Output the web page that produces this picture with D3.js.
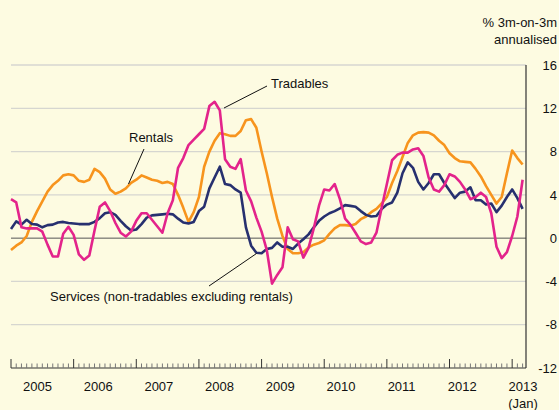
<!DOCTYPE html>
<html><head><meta charset="utf-8">
<script src="https://cdn.jsdelivr.net/npm/d3@7"></script>
<style>
html,body{margin:0;padding:0;background:#fdfbe1;}
svg{display:block;font-family:"Liberation Sans",Arial,Helvetica,sans-serif;}
</style></head><body>
<svg id="chart" width="559" height="410"></svg>
<script>
// Monthly data, Jan 2005 onward (index = months since Jan 2005)
const startYear = 2005;
const yearLabels = ["2005","2006","2007","2008","2009","2010","2011","2012","2013"];
const yTicks = [-12,-8,-4,0,4,8,12,16];

const rentals = [-1.1,-0.7,-0.4,0.2,1.5,2.5,3.4,4.3,4.9,5.3,5.8,5.9,
 5.8,5.3,5.2,5.4,6.4,6.1,5.5,4.5,4.1,4.3,4.6,5.1,
 5.4,5.8,5.6,5.4,5.3,5.1,5.2,5.0,4.0,2.8,1.5,2.4,
 3.8,6.6,8.0,9.0,9.7,9.6,9.45,9.45,9.9,10.9,11.0,10.2,
 8.0,6.0,3.8,1.8,0.2,-1.0,-1.4,-1.4,-1.3,-0.85,-0.6,-0.45,
 -0.2,0.4,0.9,1.2,1.2,1.15,1.3,1.75,2.0,2.4,2.7,3.2,
 3.8,5.1,6.2,7.5,8.8,9.5,9.75,9.8,9.75,9.5,9.0,8.6,
 7.85,7.4,7.1,7.05,7.0,6.4,5.7,4.8,4.0,3.2,3.8,6.0,
 8.1,7.4,6.8];

const tradables = [3.6,3.3,1.0,0.9,0.9,0.9,0.6,-0.6,-1.7,-1.7,0.4,1.05,
 0.3,-1.5,-2.0,-1.6,0.7,2.9,3.3,2.5,1.4,0.5,0.15,0.6,
 1.6,2.3,2.3,1.7,1.1,0.5,2.3,3.5,6.5,7.4,8.6,9.1,
 9.6,10.1,12.2,12.6,11.8,7.3,6.6,6.4,7.3,4.4,3.4,1.9,
 0.6,-1.1,-4.2,-3.4,-2.7,1.0,-0.1,-0.3,-1.8,-0.9,0.9,3.0,
 4.5,4.4,5.0,3.6,1.8,1.25,0.5,-0.3,-0.55,-0.4,0.5,2.8,
 5.0,7.2,7.7,7.9,7.9,8.2,8.3,7.6,5.6,4.5,4.3,4.9,
 5.9,5.7,5.2,4.5,3.6,3.8,4.2,3.8,2.3,-0.8,-1.85,-1.3,
 0.2,2.0,5.4];

const services = [0.85,1.55,1.25,1.7,1.3,1.25,1.0,1.2,1.25,1.45,1.5,1.4,
 1.35,1.3,1.3,1.3,1.5,1.85,2.3,2.4,2.15,1.6,1.1,0.7,
 0.8,1.3,1.9,2.1,2.15,2.2,2.25,2.2,1.8,1.45,1.35,1.5,
 2.5,2.9,4.6,5.6,6.6,5.0,4.9,4.5,4.2,1.0,-0.7,-1.35,
 -1.4,-1.0,-0.9,-0.4,-0.8,-0.8,-1.0,-0.5,-0.1,0.35,1.0,1.6,
 2.0,2.3,2.5,2.75,3.05,2.98,2.9,2.5,2.15,2.0,2.05,2.7,
 3.1,3.3,4.2,6.0,7.0,6.5,5.2,4.5,5.1,5.9,5.9,5.1,
 4.4,3.7,4.2,4.3,4.7,3.5,3.5,3.1,3.2,2.4,3.0,3.8,
 4.5,3.7,2.7];

const seriesList = [
  {name:"Rentals", values:rentals, color:"#f7941d"},
  {name:"Services", values:services, color:"#27306f"},
  {name:"Tradables", values:tradables, color:"#e3238b"}
];

const svg = d3.select("#chart");
const pLeft = 11, pRight = 526, pTop = 65, pBottom = 368;

const x = d3.scaleLinear().domain([0, 98]).range([pLeft, 522.6]);
const xEnd = x.invert(pRight);
const y = d3.scaleLinear().domain([-12, 16]).range([pBottom, pTop]);

// gridlines
svg.append("g").selectAll("line").data(yTicks.filter(v => v !== 0 && v !== -12))
  .join("line")
  .attr("x1", pLeft).attr("x2", pRight)
  .attr("y1", d => y(d)).attr("y2", d => y(d))
  .attr("stroke", "#d6d6d0").attr("stroke-width", 1.3);

// zero line
svg.append("line").attr("x1", pLeft).attr("x2", pRight)
  .attr("y1", y(0)).attr("y2", y(0)).attr("stroke", "#555").attr("stroke-width", 1);

// y labels on right
svg.append("g").selectAll("text").data(yTicks).join("text")
  .attr("x", 557).attr("y", d => y(d)).attr("dy", "0.36em")
  .attr("text-anchor", "end").attr("font-size", 13).attr("fill", "#111")
  .text(d => d);

// title
svg.append("text").attr("x", 557).attr("y", 27).attr("text-anchor", "end")
  .attr("font-size", 13).attr("fill", "#111").text("% 3m-on-3m");
svg.append("text").attr("x", 557).attr("y", 44).attr("text-anchor", "end")
  .attr("font-size", 13).attr("fill", "#111").text("annualised");

// lines
const line = d3.line().x((d, i) => x(i)).y(d => y(d)).curve(d3.curveLinear);
svg.append("g").selectAll("path").data(seriesList).join("path")
  .attr("d", d => line(d.values))
  .attr("fill", "none").attr("stroke", d => d.color)
  .attr("stroke-width", 2.6).attr("stroke-linejoin", "round").attr("stroke-linecap", "butt");

// axes frame
svg.append("line").attr("x1", pLeft).attr("x2", pRight).attr("y1", pBottom).attr("y2", pBottom)
  .attr("stroke", "#333").attr("stroke-width", 1.2);
svg.append("line").attr("x1", pRight).attr("x2", pRight).attr("y1", pTop).attr("y2", pBottom)
  .attr("stroke", "#333").attr("stroke-width", 1.2);

// month ticks
const months = d3.range(0, Math.floor(xEnd) + 1);
svg.append("g").selectAll("line").data(months).join("line")
  .attr("x1", d => x(d)).attr("x2", d => x(d))
  .attr("y1", pBottom).attr("y2", d => d % 12 === 0 ? pBottom - 9 : pBottom - 4.5)
  .attr("stroke", d => d % 12 === 0 ? "#333" : "#777").attr("stroke-width", 1);

// year labels
const xl = d3.scalePoint().domain(yearLabels).range([37.5, 523]);
svg.append("g").selectAll("text").data(yearLabels).join("text")
  .attr("x", d => xl(d)).attr("y", 391).attr("text-anchor", "middle")
  .attr("font-size", 13).attr("fill", "#111").text(d => d);
svg.append("text").attr("x", xl("2013")).attr("y", 408).attr("text-anchor", "middle")
  .attr("font-size", 13).attr("fill", "#111").text("(Jan)");

// annotations
const ann = svg.append("g").attr("font-size", 13).attr("fill", "#111");
ann.append("text").attr("x", 271).attr("y", 88).text("Tradables");
ann.append("line").attr("x1", 267).attr("y1", 86).attr("x2", 224).attr("y2", 108)
  .attr("stroke", "#111").attr("stroke-width", 1);
ann.append("text").attr("x", 129).attr("y", 142).text("Rentals");
ann.append("line").attr("x1", 144).attr("y1", 149).attr("x2", 128.5).attr("y2", 184)
  .attr("stroke", "#111").attr("stroke-width", 1);
ann.append("text").attr("x", 50).attr("y", 301).text("Services (non-tradables excluding rentals)");
ann.append("line").attr("x1", 209).attr("y1", 286).attr("x2", 256.5).attr("y2", 253.5)
  .attr("stroke", "#111").attr("stroke-width", 1);
</script>
</body></html>
